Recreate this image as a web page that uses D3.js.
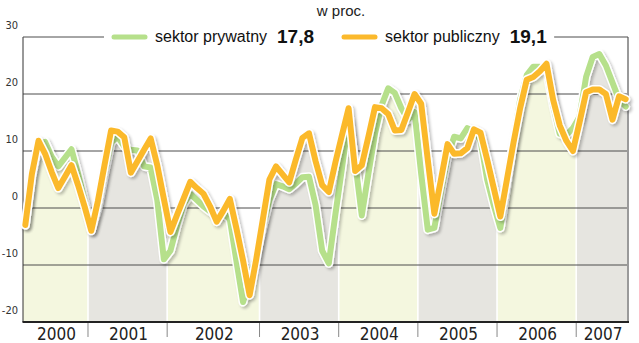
<!DOCTYPE html>
<html>
<head>
<meta charset="utf-8">
<script src="https://cdn.jsdelivr.net/npm/d3@7/dist/d3.min.js"></script>
<style>
  html, body { margin: 0; padding: 0; background: #fff; }
  svg { display: block; }
</style>
</head>
<body>
<svg id="chart" width="639" height="343"></svg>
<script>
// Year labels and how many monthly readings fall in each year
const years = ["2000", "2001", "2002", "2003", "2004", "2005", "2006", "2007"];
const monthsPerYear = [10, 12, 14, 12, 12, 12, 12, 8];

// Y axis ticks (per cent)
const yTicks = [-20, -10, 0, 10, 20, 30];

// Monthly growth, private sector (per cent)
const prywatny = [
  -3, 5.5, 11, 11.6, 9, 7.3, 8.8, 10.3, 6, 1.2,
  -3.9, 0, 6, 11.5, 12.5, 10.8, 10.2, 10.1, 7.3, 7.1, 1.4, -9,
  -7.5, -3.1, 0.7, 2.5, 1.4, 0.3, -0.6, -1.4, -0.8, -2, -9.3, -16.5, -12.5, -8.3,
  -3.3, 1.4, 4.2, 3.8, 3.3, 4.3, 5.4, 5.5, 0.5, -7.5, -9.7, -1.1,
  7, 15.5, 8, -1.3, 6, 13, 18, 21, 20.2, 17.5, 15.5, 16.8,
  6, -3.8, -3.5, 3, 9, 12.5, 12.2, 14, 13.5, 11.9, 5, 0.5,
  -3.5, 4, 12, 19, 23.3, 24.8, 24.8, 24, 18, 13, 12.8, 14,
  16, 23, 26.5, 27, 25, 22, 19, 17.8
];

// Monthly growth, public sector (per cent)
const publiczny = [
  -3, 6, 11.8, 9.5, 6.3, 3.5, 5.5, 7.5, 4, 0.2,
  -4, 1.2, 7.5, 13.6, 13.4, 12.4, 6.2, 8.2, 10.2, 12.2, 7.5, 1.6,
  -4.2, -1.2, 1.7, 4.6, 3.5, 2.5, 0.3, -2.4, -0.5, 1.6, -3.6, -9.2, -15.3, -9,
  -2, 5, 7.3, 5.9, 4.5, 8.5, 12.3, 13.1, 8.2, 4, 2.8, 8,
  12.8, 17.5, 6.5, 7.5, 12.5, 17.7, 17.5, 16.5, 13.6, 13.7, 16.8, 20,
  18.3, 8.5, -1, 5, 11.2, 9.5, 9.6, 10.5, 13.8, 13.2, 8.5, 3.5,
  -1.5, 5, 11.5, 17.5, 22.5, 23, 24, 25.3, 19, 14.5, 11.8, 10,
  15, 20.3, 20.8, 20.8, 20, 15.5, 19.6, 19.1
];

const seriesNames = ["sektor prywatny", "sektor publiczny"];
const unitLabel = "w proc.";

(function draw() {
  const svg = d3.select("#chart");
  const plotLeft = 23, plotRight = 628, plotTop = 37, plotBottom = 322;
  const n = prywatny.length;

  const x = d3.scaleLinear().domain([-0.35, n - 1 + 0.35]).range([plotLeft, plotRight]);
  const y = d3.scaleLinear().domain([-20, 30]).range([plotBottom, plotTop]);

  const labelFont = "'DejaVu Sans Condensed', 'DejaVu Sans', sans-serif";
  const textFont = "'Liberation Sans', Arial, sans-serif";

  // Year bands: boundaries fall halfway between the last and first month
  const bandEdges = [x.domain()[0]];
  let acc = 0;
  monthsPerYear.forEach((m, i) => {
    acc += m;
    bandEdges.push(i === monthsPerYear.length - 1 ? x.domain()[1] : acc - 0.5);
  });
  const bands = years.map((yr, i) => ({ year: yr, x0: bandEdges[i], x1: bandEdges[i + 1], even: i % 2 === 0 }));

  const defs = svg.append("defs");

  // Region under the higher of the two series, used to tint the year bands
  const upper = prywatny.map((v, i) => Math.max(v, publiczny[i]));
  const upperPts = [{ i: x.domain()[0], v: upper[0] }, ...upper.map((v, i) => ({ i, v })), { i: x.domain()[1], v: upper[n - 1] }];
  defs.append("clipPath").attr("id", "under")
    .append("path")
    .attr("d", d3.area().x(d => x(d.i)).y0(y(-20)).y1(d => y(d.v))(upperPts));

  const shadow = defs.append("filter").attr("id", "shadow")
    .attr("x", "-5%").attr("y", "-10%").attr("width", "110%").attr("height", "120%");
  shadow.append("feGaussianBlur").attr("in", "SourceAlpha").attr("stdDeviation", 1.6).attr("result", "b");
  shadow.append("feOffset").attr("in", "b").attr("dx", 1.5).attr("dy", 2).attr("result", "o");
  shadow.append("feComponentTransfer").attr("in", "o").attr("result", "s")
    .append("feFuncA").attr("type", "linear").attr("slope", 0.25);
  const merge = shadow.append("feMerge");
  merge.append("feMergeNode").attr("in", "s");
  merge.append("feMergeNode").attr("in", "SourceGraphic");

  // Tinted year bands
  const bandG = svg.append("g").attr("clip-path", "url(#under)");
  bandG.selectAll("rect").data(bands).join("rect")
    .attr("x", d => x(d.x0))
    .attr("width", d => x(d.x1) - x(d.x0))
    .attr("y", plotTop)
    .attr("height", plotBottom - plotTop)
    .attr("fill", d => d.even ? "#f4f7df" : "#e6e5e0");
  bandG.selectAll("line").data(bands.slice(1)).join("line")
    .attr("x1", d => x(d.x0)).attr("x2", d => x(d.x0))
    .attr("y1", plotTop).attr("y2", plotBottom)
    .attr("stroke", "#fff").attr("stroke-width", 1.6);

  // Horizontal grid lines
  svg.append("g").selectAll("line").data(yTicks.filter(t => t > -20 && t < 30)).join("line")
    .attr("x1", plotLeft).attr("x2", plotRight)
    .attr("y1", d => y(d)).attr("y2", d => y(d))
    .attr("stroke", "#4d4d4d").attr("stroke-width", 1);

  // Frame: right border, left axis, bottom axis
  svg.append("line").attr("x1", plotRight).attr("x2", plotRight).attr("y1", plotTop).attr("y2", plotBottom)
    .attr("stroke", "#9a9a9a").attr("stroke-width", 2);
  svg.append("line").attr("x1", plotLeft).attr("x2", plotLeft).attr("y1", plotTop).attr("y2", plotBottom)
    .attr("stroke", "#333").attr("stroke-width", 1);
  svg.append("line").attr("x1", plotLeft - 0.5).attr("x2", plotRight + 1).attr("y1", plotBottom).attr("y2", plotBottom)
    .attr("stroke", "#222").attr("stroke-width", 2);

  // Y tick labels sit just above their grid line
  svg.append("g").selectAll("text").data(yTicks).join("text")
    .attr("x", 18).attr("y", d => y(d) - 8)
    .attr("text-anchor", "end")
    .attr("font-family", labelFont).attr("font-size", 11)
    .attr("fill", "#333")
    .text(d => d);

  // Year separators below the axis and year labels
  svg.append("g").selectAll("line").data(bands.slice(1)).join("line")
    .attr("x1", d => x(d.x0)).attr("x2", d => x(d.x0))
    .attr("y1", plotBottom + 1).attr("y2", plotBottom + 15)
    .attr("stroke", "#888").attr("stroke-width", 1);
  svg.append("g").selectAll("text").data(bands).join("text")
    .attr("x", d => (x(d.x0) + x(d.x1)) / 2 + 1)
    .attr("y", 340)
    .attr("text-anchor", "middle")
    .attr("font-family", labelFont).attr("font-size", 17)
    .attr("fill", "#222")
    .text(d => d.year);

  // Series lines with a white casing
  const lineGen = d3.line().x((d, i) => x(i)).y(d => y(d));
  const series = [
    { values: prywatny, color: "#b6e08b" },
    { values: publiczny, color: "#fbb92c" }
  ];
  series.forEach(s => {
    const g = svg.append("g").attr("filter", "url(#shadow)");
    g.append("path").attr("d", lineGen(s.values))
      .attr("fill", "none").attr("stroke", "#fff").attr("stroke-width", 9)
      .attr("stroke-linejoin", "round").attr("stroke-linecap", "round");
    g.append("path").attr("d", lineGen(s.values))
      .attr("fill", "none").attr("stroke", s.color).attr("stroke-width", 6)
      .attr("stroke-linejoin", "round").attr("stroke-linecap", "round");
  });

  // Unit label
  svg.append("text").attr("x", 341).attr("y", 16)
    .attr("text-anchor", "middle")
    .attr("font-family", textFont).attr("font-size", 15)
    .attr("fill", "#222")
    .text(unitLabel);

  // Top line at 30 with the legend sitting in a gap
  const topLine = svg.append("line").attr("y1", y(30)).attr("y2", y(30))
    .attr("x1", plotLeft).attr("x2", plotRight)
    .attr("stroke", "#4d4d4d").attr("stroke-width", 1);
  const legendBg = svg.append("rect").attr("fill", "#fff");
  const legend = svg.append("g");
  const fmt = v => d3.format(".1f")(v).replace(".", ",");
  const legendStarts = [112, 342];
  series.forEach((s, i) => {
    const g = legend.append("g");
    const x0 = legendStarts[i];
    g.append("line").attr("x1", x0 + 2).attr("x2", x0 + 33)
      .attr("y1", y(30)).attr("y2", y(30))
      .attr("stroke", s.color).attr("stroke-width", 5).attr("stroke-linecap", "round");
    const t = g.append("text").attr("x", x0 + 43).attr("y", 42)
      .attr("font-family", textFont).attr("font-size", 16).attr("fill", "#111")
      .text(seriesNames[i]);
    const tw = t.node().getComputedTextLength();
    g.append("text").attr("x", x0 + 43 + tw + 10).attr("y", 43)
      .attr("font-family", textFont).attr("font-size", 19).attr("font-weight", "bold")
      .attr("fill", "#111")
      .text(fmt(s.values[s.values.length - 1]));
  });
  const bb = legend.node().getBBox();
  legendBg.attr("x", bb.x - 10).attr("y", y(30) - 3).attr("width", bb.width + 17).attr("height", 6);
})();
</script>
</body>
</html>
